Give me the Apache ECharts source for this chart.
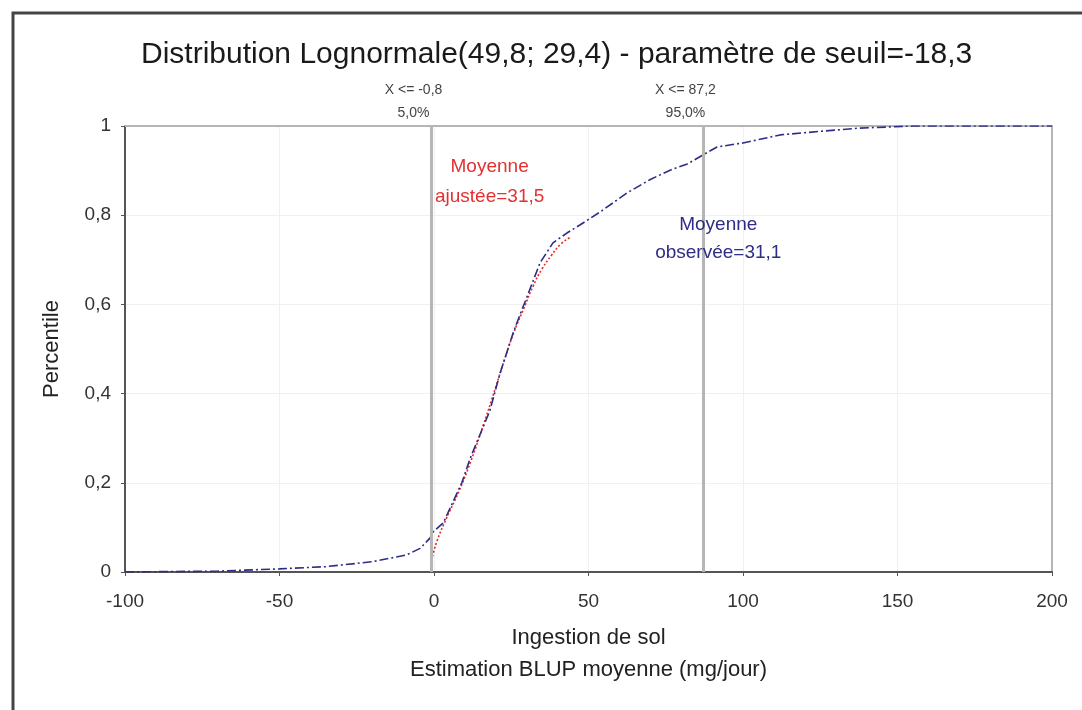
<!DOCTYPE html>
<html>
<head>
<meta charset="utf-8">
<script src="https://cdn.jsdelivr.net/npm/echarts@6/dist/echarts.min.js"></script>
<style>
  html, body { margin: 0; padding: 0; background: #fff; }
  #main { width: 1082px; height: 710px; }
</style>
</head>
<body>
<div id="main"></div>
<script>
// courbe observée (x, percentile)
const observedX = [-100, -70, -50, -35, -20, -9, -4.5, -1.3, -0.3, 3, 6, 9, 11.7, 15, 18, 21.4, 25.6, 28, 30.1, 34.3, 38.5, 43, 47.2, 53.7, 62.5, 70, 76.4, 82, 87, 91.6, 100, 112, 125, 137, 155, 200];
const observedP = [0, 0.002, 0.007, 0.012, 0.023, 0.038, 0.053, 0.076, 0.09, 0.11, 0.155, 0.2, 0.255, 0.31, 0.36, 0.446, 0.536, 0.58, 0.617, 0.693, 0.738, 0.76, 0.778, 0.807, 0.85, 0.88, 0.901, 0.915, 0.935, 0.953, 0.962, 0.98, 0.988, 0.995, 1.0, 1.0];

// courbe ajustée (lognormale)
const fittedX = [-0.5, 1, 4, 8, 12, 16, 20, 23, 26, 29, 32, 35, 38, 41, 44];
const fittedP = [0.035, 0.07, 0.12, 0.18, 0.25, 0.33, 0.415, 0.48, 0.54, 0.59, 0.64, 0.68, 0.71, 0.735, 0.75];

// seuils 5% / 95%
const cutX = [-0.8, 87.2];
const cutLabels = ['X <= -0,8\n5,0%', 'X <= 87,2\n95,0%'];

const xTicks = { min: -100, max: 200, step: 50 };
const yTicks = { min: 0, max: 1, step: 0.2 };

const titleText = 'Distribution Lognormale(49,8; 29,4) - paramètre de seuil=-18,3';

const chart = echarts.init(document.getElementById('main'));

const font = 'Liberation Sans, Arial, sans-serif';

const option = {
  backgroundColor: '#fff',
  animation: false,
  textStyle: { fontFamily: font },
  title: {
    text: titleText,
    left: 136,
    top: 35,
    textStyle: { fontSize: 30, fontWeight: 'normal', color: '#1a1a1a', fontFamily: font }
  },
  graphic: [{
    type: 'rect',
    shape: { x: 13, y: 13, width: 1400, height: 1000 },
    style: { fill: 'none', stroke: '#444', lineWidth: 3 },
    silent: true
  }],
  grid: { left: 125, right: 30, top: 126, bottom: 138 },
  xAxis: [{
    type: 'value',
    min: xTicks.min, max: xTicks.max, interval: xTicks.step,
    name: 'Ingestion de sol\nEstimation BLUP moyenne (mg/jour)',
    nameLocation: 'middle',
    nameGap: 50,
    nameTextStyle: { fontSize: 22, color: '#222', lineHeight: 32 },
    axisLine: { onZero: false, lineStyle: { color: '#555', width: 2 } },
    axisTick: { show: true, length: 4, lineStyle: { color: '#555' } },
    axisLabel: { fontSize: 19, color: '#333', margin: 20 },
    splitLine: { show: true, lineStyle: { color: '#f0f0f0' } }
  }, {
    type: 'value', position: 'top',
    min: xTicks.min, max: xTicks.max,
    axisLine: { onZero: false, lineStyle: { color: '#b5b5b5', width: 2 } },
    axisTick: { show: false }, axisLabel: { show: false }, splitLine: { show: false }
  }],
  yAxis: [{
    type: 'value',
    min: yTicks.min, max: yTicks.max, interval: yTicks.step,
    name: 'Percentile',
    nameLocation: 'middle',
    nameGap: 62,
    nameTextStyle: { fontSize: 22, color: '#222' },
    axisLine: { show: true, onZero: false, lineStyle: { color: '#555', width: 2 } },
    axisTick: { show: true, length: 4, lineStyle: { color: '#555' } },
    axisLabel: {
      fontSize: 19, color: '#333', margin: 14,
      formatter: v => String(Math.round(v * 10) / 10).replace('.', ',')
    },
    splitLine: { show: true, lineStyle: { color: '#f0f0f0' } }
  }, {
    type: 'value', position: 'right',
    min: yTicks.min, max: yTicks.max,
    axisLine: { show: true, onZero: false, lineStyle: { color: '#b5b5b5', width: 2 } },
    axisTick: { show: false }, axisLabel: { show: false }, splitLine: { show: false }
  }],
  series: [{
    name: 'Ajustée',
    type: 'line',
    data: fittedX.map((x, i) => [x, fittedP[i]]),
    showSymbol: false,
    smooth: true,
    lineStyle: { color: '#e22b2b', width: 1.6, type: [2, 2] },
    markPoint: {
      symbol: 'circle', symbolSize: 0,
      data: [{ coord: [18, 0.874] }],
      label: {
        show: true, position: 'inside',
        formatter: 'Moyenne\najustée=31,5',
        fontSize: 19, lineHeight: 30, color: '#e53030'
      }
    },
    z: 2
  }, {
    name: 'Observée',
    type: 'line',
    data: observedX.map((x, i) => [x, observedP[i]]),
    showSymbol: false,
    lineStyle: { color: '#2d2d88', width: 1.6, type: [9, 3, 2, 3] },
    markLine: {
      silent: true,
      symbol: 'none',
      lineStyle: { color: '#b5b5b5', width: 3, type: 'solid' },
      label: {
        show: true, position: 'end', distance: 1,
        fontSize: 14, lineHeight: 23, color: '#444',
        padding: [0, 36, 0, 0]
      },
      data: cutX.map((x, i) => ({ xAxis: x, label: { formatter: cutLabels[i] } }))
    },
    markPoint: {
      symbol: 'circle', symbolSize: 0,
      data: [{ coord: [92, 0.747] }],
      label: {
        show: true, position: 'inside',
        formatter: 'Moyenne\nobservée=31,1',
        fontSize: 19, lineHeight: 28, color: '#2d2d88'
      }
    },
    z: 3
  }]
};

chart.setOption(option);
</script>
</body>
</html>
